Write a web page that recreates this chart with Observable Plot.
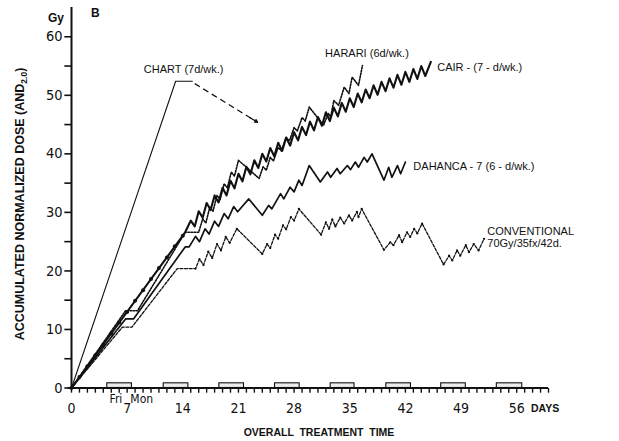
<!DOCTYPE html>
<html>
<head>
<meta charset="utf-8">
<script src="https://cdn.jsdelivr.net/npm/d3@7"></script>
<script src="https://cdn.jsdelivr.net/npm/@observablehq/plot@0.6"></script>
<style>
  html, body { margin: 0; padding: 0; background: #fff; }
  #chart { width: 619px; height: 441px; }
</style>
</head>
<body>
<div id="chart"></div>
<script>
// ---- data (day, accumulated normalized dose in Gy) ----
const chart = [[0, 0], [13.1, 52.4], [15.2, 52.4]];

const cairDots = [[0,0],[1,1.9],[2,3.7],[3,5.6],[4,7.4],[5,9.3],[6,11.2],[7,13.0],[8,14.9],[9,16.7],[10,18.6],[11,20.5],[12,22.3],[13,24.2],[14,26.0]];

const cair = [[0,0],[14.3,26.6],[15.0,28.6],[15.5,27.6],[16.0,30.2],[16.5,29.1],[17.0,31.6],[17.5,30.4],[18.0,32.9],[18.5,31.7],[19.0,34.2],[19.5,32.9],[20.0,35.4],[20.5,34.1],[21.0,36.6],[21.5,35.3],[22.0,37.8],[22.5,36.5],[23.0,38.9],[23.5,37.6],[24.0,40.0],[24.5,38.7],[25.0,41.0],[25.5,39.6],[26.0,41.9],[26.5,40.5],[27.0,42.8],[27.5,41.4],[28.0,43.7],[28.5,42.3],[29.0,44.6],[29.5,43.2],[30.0,45.5],[30.5,44.0],[31.0,46.3],[31.5,44.8],[32.0,47.1],[32.5,45.6],[33.0,47.9],[33.5,46.4],[34.0,48.7],[34.5,47.2],[35.0,49.5],[35.5,48.0],[36.0,50.3],[36.5,48.8],[37.0,51.0],[37.5,49.5],[38.0,51.7],[38.5,50.1],[39.0,52.3],[39.5,50.7],[40.0,52.9],[40.5,51.3],[41.0,53.5],[41.5,51.8],[42.0,54.0],[42.5,52.3],[43.0,54.5],[43.5,52.8],[44.0,55.0],[44.5,53.3],[45.2,55.7]];

const harari = [[0,0],[6.8,13.2],[8.3,13.2],[14.3,26.6],[16.0,26.6],[16.5,28.9],[16.9,28.2],[17.4,30.9],[17.8,30.2],[18.3,32.9],[18.7,32.2],[19.2,34.9],[19.6,34.2],[20.1,36.9],[20.5,36.2],[21.0,38.9],[23.6,35.8],[24.1,37.8],[24.5,37.2],[25.0,39.4],[25.4,38.8],[26.0,41.1],[26.4,40.5],[27.0,42.8],[27.4,42.2],[28.0,44.5],[28.4,43.9],[29.0,46.2],[29.4,45.6],[29.9,48.0],[31.7,44.9],[32.3,46.9],[32.6,46.3],[33.0,49.1],[33.6,48.3],[34.3,51.4],[34.9,50.3],[35.3,53.1],[36.1,51.7],[36.6,55.1]];

const dahanca = [[0,0],[6.8,11.8],[7.8,11.8],[14.3,24.1],[14.8,24.1],[15.6,25.9],[16.1,25.0],[16.8,27.2],[17.3,26.3],[18.0,28.5],[18.5,27.6],[19.2,29.8],[19.7,28.9],[20.4,31.0],[20.9,30.1],[22.3,32.3],[24.0,29.5],[24.8,31.2],[25.2,30.6],[26.3,33.2],[26.7,32.3],[27.5,34.3],[28.0,33.5],[28.6,35.5],[29.0,34.6],[29.9,38.0],[31.3,35.2],[32.2,36.9],[32.6,36.0],[33.4,37.5],[33.8,36.6],[34.7,38.0],[35.1,37.3],[35.7,38.6],[36.1,37.7],[36.8,39.4],[37.2,38.6],[37.8,40.0],[39.3,35.5],[39.9,37.7],[40.3,36.0],[41.0,38.0],[41.4,36.6],[42.0,38.6]];

const conventional = [[0,0],[6.4,10.4],[7.6,10.4],[13.3,20.4],[15.6,20.4],[16.1,22.0],[16.6,21.0],[17.2,23.3],[17.7,22.2],[18.3,24.6],[18.8,23.5],[19.4,25.8],[19.9,24.8],[20.8,27.2],[24.0,22.9],[24.6,24.6],[25.0,23.9],[25.6,26.2],[26.0,25.5],[26.6,27.8],[27.0,27.1],[27.6,29.2],[28.0,28.6],[28.6,30.6],[31.4,26.2],[32.0,28.3],[32.4,27.2],[32.8,28.8],[33.2,27.6],[33.8,29.1],[34.3,28.1],[34.9,29.5],[35.3,28.6],[35.9,30.1],[36.1,29.2],[36.5,30.6],[39.3,23.6],[40.1,24.9],[40.5,24.4],[41.2,26.1],[41.6,24.9],[42.2,26.6],[42.6,25.8],[43.1,27.2],[43.5,26.4],[44.1,28.1],[46.8,21.1],[47.5,22.6],[47.9,21.8],[48.5,23.5],[48.9,22.6],[49.6,24.4],[50.0,23.2],[50.6,24.6],[51.2,23.5],[51.9,25.5]];

// weekend boxes on the time axis
const weekendStart = [4.5, 11.6, 18.6, 25.6, 32.6, 39.6, 46.5, 53.5];
const weekendEnd   = [7.6, 14.7, 21.7, 28.7, 35.6, 42.7, 49.6, 56.7];
const weekendHeight = 0.8;

// ticks and tick labels
const xMinorTicks = d3.range(0, 61);
const yMinorTicks = d3.range(0, 61, 5);
const xTickLabels = [0, 7, 14, 21, 28, 35, 42, 49, 56];
const yTickLabels = [0, 10, 20, 30, 40, 50, 60];
const dayNames = [{day: 6.4, text: "Fri"}, {day: 7.4, text: "Mon"}];

// annotations
const arrowLine = [{x1: 15.5, y1: 52.0, x2: 23.4, y2: 45.4}];
const arrowHead = [{x1: 22.4, y1: 46.2, x2: 23.4, y2: 45.4}];
const seriesLabels = [
  {day: 9.1, dose: 54.5, text: "CHART (7d/wk.)"},
  {day: 31.9, dose: 57.2, text: "HARARI (6d/wk.)"},
  {day: 46.0, dose: 54.8, text: "CAIR - (7 - d/wk.)"},
  {day: 43.0, dose: 38.0, text: "DAHANCA - 7 (6 - d/wk.)"},
  {day: 52.3, dose: 25.8, text: "CONVENTIONAL\n70Gy/35fx/42d."}
];

const weekends = weekendStart.map((s, i) => ({s, e: weekendEnd[i]}));
const ink = "#111";
const tickFont = "'DejaVu Sans Condensed', 'DejaVu Sans', sans-serif";
const P = {x: d => d[0], y: d => d[1]};

const plot = Plot.plot({
  width: 619,
  height: 441,
  marginLeft: 71,
  marginRight: 71,
  marginTop: 7,
  marginBottom: 53.5,
  x: {domain: [0, 60], axis: null},
  y: {domain: [0, 65], axis: null},
  style: {background: "#fff", fontFamily: "'Liberation Sans', Arial, sans-serif", color: ink, overflow: "visible"},
  marks: [
    Plot.rect(weekends, {x1: "s", x2: "e", y1: 0, y2: weekendHeight, fill: "#ececec", stroke: ink, strokeWidth: 1.1}),
    Plot.link(xMinorTicks, {x1: d => d, x2: d => d, y1: () => 0, y2: () => -0.8, stroke: ink, strokeWidth: 1.4}),
    Plot.link(yMinorTicks, {x1: () => 0, x2: () => -0.9, y1: d => d, y2: d => d, stroke: ink, strokeWidth: 1.6}),
    Plot.text(xTickLabels, {x: d => d, y: 0, dy: 21, fontSize: 14, fontFamily: tickFont, fill: ink}),
    Plot.text(yTickLabels, {x: 0, y: d => d, dx: -9, textAnchor: "end", fontSize: 14.5, fontFamily: tickFont, fill: ink}),
    Plot.ruleY([0], {x1: -0.4, x2: 60, stroke: ink, strokeWidth: 2}),
    Plot.ruleX([0], {y1: 0, y2: 65, stroke: ink, strokeWidth: 2}),
    Plot.text(dayNames.slice(0, 1), {x: "day", y: 0, text: "text", dy: 11, textAnchor: "end", fontSize: 12, fontFamily: tickFont, fill: ink}),
    Plot.text(dayNames.slice(1), {x: "day", y: 0, text: "text", dy: 11, textAnchor: "start", fontSize: 12, fontFamily: tickFont, fill: ink}),
    Plot.line(chart, {...P, stroke: ink, strokeWidth: 1.1}),
    Plot.line(conventional, {...P, stroke: ink, strokeWidth: 1.3, strokeDasharray: "3,1.6"}),
    Plot.dot(conventional.slice(4), {...P, r: 1.1, fill: ink}),
    Plot.line(dahanca, {...P, stroke: ink, strokeWidth: 1.7}),
    Plot.line(cair, {...P, stroke: ink, strokeWidth: 2.1}),
    Plot.line(harari, {...P, stroke: ink, strokeWidth: 1.6, strokeDasharray: "1.5,1.5"}),
    Plot.dot(cairDots, {...P, r: 2, fill: ink}),
    Plot.link(arrowLine, {x1: "x1", y1: "y1", x2: "x2", y2: "y2", stroke: ink, strokeWidth: 1.3, strokeDasharray: "6,4"}),
    Plot.arrow(arrowHead, {x1: "x1", y1: "y1", x2: "x2", y2: "y2", stroke: ink, strokeWidth: 1.3, headLength: 9, bend: 0}),
    Plot.text(seriesLabels, {x: "day", y: "dose", text: "text", textAnchor: "start", fontSize: 11, fill: ink, lineHeight: 1.15})
  ]
});

const svg = d3.select(plot);
const sans = "'Liberation Sans', Arial, sans-serif";
// y-axis title with subscript
const yt = svg.append("text")
  .attr("transform", "translate(24,204) rotate(-90)")
  .attr("text-anchor", "middle")
  .attr("font-family", sans)
  .attr("font-weight", "bold")
  .attr("font-size", 12.5)
  .attr("fill", ink);
yt.append("tspan").text("ACCUMULATED NORMALIZED DOSE (AND");
yt.append("tspan").attr("font-size", 8.5).attr("dy", 3).text("2.0");
yt.append("tspan").attr("dy", -3).text(")");

svg.append("text").attr("x", 319).attr("y", 436).attr("text-anchor", "middle")
  .attr("font-family", sans).attr("font-weight", "bold")
  .attr("font-size", 10.5).attr("fill", ink).text("OVERALL  TREATMENT  TIME");
svg.append("text").attr("x", 531).attr("y", 412).attr("text-anchor", "start")
  .attr("font-family", sans).attr("font-weight", "bold")
  .attr("font-size", 10.5).attr("fill", ink).text("DAYS");
svg.append("text").attr("x", 48).attr("y", 22).attr("text-anchor", "start")
  .attr("font-family", sans).attr("font-weight", "bold")
  .attr("font-size", 12).attr("fill", ink).text("Gy");
svg.append("text").attr("x", 91).attr("y", 17).attr("text-anchor", "start")
  .attr("font-family", sans).attr("font-weight", "bold")
  .attr("font-size", 12).attr("fill", ink).text("B");

document.getElementById("chart").appendChild(plot);
</script>
</body>
</html>
